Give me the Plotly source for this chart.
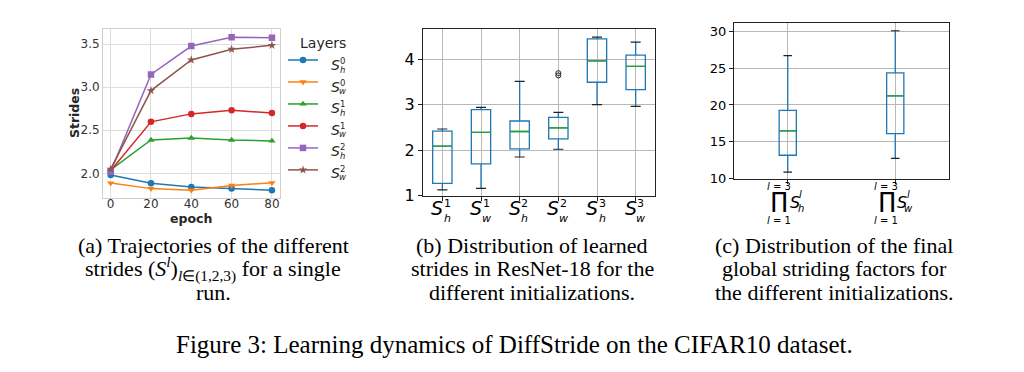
import plotly.graph_objects as go

W, H = 1024, 372


def px(x):
    return x / W


def py(y):
    return 1 - y / H


# ---------------- data: (a) trajectories ----------------
epochs = [0, 20, 40, 60, 80]
s_h0 = [1.98, 1.884, 1.842, 1.823, 1.805]
s_w0 = [1.887, 1.823, 1.805, 1.860, 1.890]
s_h1 = [2.04, 2.387, 2.410, 2.387, 2.376]
s_w1 = [2.03, 2.598, 2.690, 2.733, 2.700]
s_h2 = [2.02, 3.147, 3.477, 3.580, 3.572]
s_w2 = [2.05, 2.960, 3.316, 3.440, 3.485]
series_a = [s_h0, s_w0, s_h1, s_w1, s_h2, s_w2]
legend_dims = ["h", "w", "h", "w", "h", "w"]
legend_layers = ["0", "0", "1", "1", "2", "2"]
x_ticks_a = [0, 20, 40, 60, 80]
y_ticks_a = [2.0, 2.5, 3.0, 3.5]

# ---------------- data: (b) learned strides ----------------
labels_b_dim = ["h", "w", "h", "w", "h", "w"]
labels_b_layer = ["1", "1", "2", "2", "3", "3"]
whislo_b = [1.13, 1.16, 1.85, 2.02, 3.00, 2.96]
q1_b = [1.27, 1.70, 2.03, 2.25, 3.49, 3.33]
med_b = [2.09, 2.39, 2.41, 2.49, 3.96, 3.84]
q3_b = [2.42, 2.89, 2.64, 2.72, 4.44, 4.085]
whishi_b = [2.465, 2.94, 3.51, 2.83, 4.48, 4.37]
outlier_idx_b = 3
outliers_b = [3.64, 3.69]
y_ticks_b = [1, 2, 3, 4]

# ---------------- data: (c) global striding factors ----------------
labels_c_dim = ["h", "w"]
whislo_c = [10.84, 12.70]
q1_c = [13.14, 16.10]
med_c = [16.46, 21.24]
q3_c = [19.25, 24.38]
whishi_c = [26.73, 30.13]
y_ticks_c = [10, 15, 20, 25, 30]

# ---------------- captions ----------------
cap_a = ["(a) Trajectories of the different",
         "strides (<i>S</i><sup><i>l</i></sup>)<sub><i>l</i>∈(1,2,3)</sub> for a single",
         "run."]
cap_b = ["(b) Distribution of learned",
         "strides in ResNet-18 for the",
         "different initializations."]
cap_c = ["(c) Distribution of the final",
         "global striding factors for",
         "the different initializations."]
fig_title = "Figure 3: Learning dynamics of DiffStride on the CIFAR10 dataset."

# ---------------- styles ----------------
colors_a = ["#1f77b4", "#ff7f0e", "#2ca02c", "#d62728", "#9467bd", "#8c564b"]
symbols_a = ["circle", "triangle-down", "triangle-up", "circle", "square", "star"]
BOX_BLUE = "#1f77b4"
MED_GREEN = "#2ca02c"
SANS = "DejaVu Sans"
SERIF = "Liberation Serif"

fig = go.Figure()

# (a) lines
for vals, c, s in zip(series_a, colors_a, symbols_a):
    fig.add_trace(go.Scatter(
        x=epochs, y=vals, mode="lines+markers", name=" ",
        line=dict(color=c, width=1.5),
        marker=dict(symbol=s, size=6.5, color=c),
        xaxis="x", yaxis="y", showlegend=True))

# (b) boxes
pos_b = list(range(1, len(med_b) + 1))
fig.add_trace(go.Box(
    x=pos_b, q1=q1_b, median=med_b, q3=q3_b,
    lowerfence=whislo_b, upperfence=whishi_b,
    width=0.5, whiskerwidth=0, boxpoints=False,
    fillcolor="rgba(0,0,0,0)", line=dict(color=BOX_BLUE, width=1.3),
    xaxis="x2", yaxis="y2", showlegend=False, hoverinfo="skip"))


def seg_lines(pos, vals, half):
    xs, ys = [], []
    for p, v in zip(pos, vals):
        xs += [p - half, p + half, None]
        ys += [v, v, None]
    return xs, ys


mx, my = seg_lines(pos_b, med_b, 0.25)
fig.add_trace(go.Scatter(x=mx, y=my, mode="lines", line=dict(color=MED_GREEN, width=1.3),
                         xaxis="x2", yaxis="y2", showlegend=False, hoverinfo="skip"))
cx1, cy1 = seg_lines(pos_b, whishi_b, 0.13)
cx2, cy2 = seg_lines(pos_b, whislo_b, 0.13)
fig.add_trace(go.Scatter(x=cx1 + cx2, y=cy1 + cy2, mode="lines", line=dict(color="#222", width=1.2),
                         xaxis="x2", yaxis="y2", showlegend=False, hoverinfo="skip"))
fig.add_trace(go.Scatter(x=[pos_b[outlier_idx_b]] * len(outliers_b), y=outliers_b, mode="markers",
                         marker=dict(symbol="circle-open", size=5, color="#222", line=dict(width=1)),
                         xaxis="x2", yaxis="y2", showlegend=False, hoverinfo="skip"))

# (c) boxes
pos_c = list(range(1, len(med_c) + 1))
fig.add_trace(go.Box(
    x=pos_c, q1=q1_c, median=med_c, q3=q3_c,
    lowerfence=whislo_c, upperfence=whishi_c,
    width=0.16, whiskerwidth=0, boxpoints=False,
    fillcolor="rgba(0,0,0,0)", line=dict(color=BOX_BLUE, width=1.3),
    xaxis="x3", yaxis="y3", showlegend=False, hoverinfo="skip"))
mx, my = seg_lines(pos_c, med_c, 0.08)
fig.add_trace(go.Scatter(x=mx, y=my, mode="lines", line=dict(color=MED_GREEN, width=1.3),
                         xaxis="x3", yaxis="y3", showlegend=False, hoverinfo="skip"))
cx1, cy1 = seg_lines(pos_c, whishi_c, 0.04)
cx2, cy2 = seg_lines(pos_c, whislo_c, 0.04)
fig.add_trace(go.Scatter(x=cx1 + cx2, y=cy1 + cy2, mode="lines", line=dict(color="#222", width=1.2),
                         xaxis="x3", yaxis="y3", showlegend=False, hoverinfo="skip"))

annotations = []


def ann(text, x, y, size, xref="paper", yref="paper", family=SANS, color="black",
        xanchor="center", yanchor="middle", xshift=0, yshift=0, textangle=0):
    annotations.append(dict(text=text, x=x, y=y, xref=xref, yref=yref, showarrow=False,
                            font=dict(family=family, size=size, color=color),
                            xanchor=xanchor, yanchor=yanchor, xshift=xshift, yshift=yshift,
                            textangle=textangle, borderpad=0))


# (a) axis titles & legend
ann("<b>Strides</b>", px(66), py(108), 12.5, color="#262626", textangle=-90)
ann("<b>epoch</b>", px(183), py(216), 12.5, color="#262626")
ann("Layers", px(315), py(36), 14, color="#262626")
for i, (d, l) in enumerate(zip(legend_dims, legend_layers)):
    yc = 59 + 22.1 * i
    ann("<i>S</i>", px(327.5), py(yc), 14, color="#262626")
    ann(l, px(334.5), py(yc - 4.5), 8.5, color="#262626")
    ann("<i>%s</i>" % d, px(334.5), py(yc + 4.5), 8.5, color="#262626")

# (b) tick labels
for p, d, l in zip(pos_b, labels_b_dim, labels_b_layer):
    ann("<i>S</i>", p, py(205.5), 19, xref="x2", xshift=-5)
    ann(l, p, py(201), 11, xref="x2", xshift=5)
    ann("<i>%s</i>" % d, p, py(216.5), 11, xref="x2", xshift=5)

# (c) tick labels
for p, d in zip(pos_c, labels_c_dim):
    ann("<i>l</i> = 3", p, py(183.5), 10, xref="x3", xshift=-9)
    ann("∏", p, py(198), 22, xref="x3", xshift=-8)
    ann("<i>S</i>", p, py(200), 16, xref="x3", xshift=7)
    ann("<i>l</i>", p, py(192), 10, xref="x3", xshift=13)
    ann("<i>%s</i>" % d, p, py(206), 10, xref="x3", xshift=13.5)
    ann("<i>l</i> = 1", p, py(218), 10, xref="x3", xshift=-9)

# captions
for lines, xc in ((cap_a, 205), (cap_b, 524), (cap_c, 826)):
    for j, t in enumerate(lines):
        ann(t, px(xc), py(244 + 24 * j), 22, family=SERIF)
ann(fig_title, px(506), py(346), 25, family=SERIF)

grid_a = "#dedede"
fig.update_layout(
    width=W, height=H, margin=dict(l=0, r=0, t=0, b=0),
    paper_bgcolor="white", plot_bgcolor="white",
    font=dict(family=SANS, color="black"),
    showlegend=True,
    legend=dict(x=px(275), y=py(37), xanchor="left", yanchor="top",
                font=dict(size=14.6, family=SANS), bgcolor="rgba(0,0,0,0)",
                borderwidth=0, itemwidth=30, tracegroupgap=0),
    xaxis=dict(domain=[px(95), px(272)], anchor="y", range=[-3.8, 84],
               tickvals=x_ticks_a, ticks="", showgrid=True, gridcolor=grid_a, gridwidth=1,
               showline=True, linecolor="#cfcfcf", linewidth=1, mirror=True, zeroline=False,
               ticklabelstandoff=-5,
               tickfont=dict(size=12, color="#333")),
    yaxis=dict(domain=[py(195), py(22)], anchor="x", range=[1.717, 3.67],
               tickvals=y_ticks_a, tickformat=".1f", ticks="", showgrid=True, gridcolor=grid_a,
               gridwidth=1, showline=True, linecolor="#cfcfcf", linewidth=1, mirror=True,
               zeroline=False, tickfont=dict(size=12, color="#333")),
    xaxis2=dict(domain=[px(415), px(647)], anchor="y2", range=[0.5, 6.5],
                tickvals=pos_b, showticklabels=False, ticks="outside", ticklen=4,
                tickcolor="#222", showgrid=True, gridcolor="#b8b8b8", gridwidth=1,
                showline=True, linecolor="#222", linewidth=1, mirror=True, zeroline=False),
    yaxis2=dict(domain=[py(193), py(21.5)], anchor="x2", range=[0.999, 4.66],
                tickvals=y_ticks_b, ticks="outside", ticklen=4, tickcolor="#222",
                showgrid=True, gridcolor="#b8b8b8", gridwidth=1, showline=True,
                linecolor="#222", linewidth=1, mirror=True, zeroline=False,
                tickfont=dict(size=16, color="black")),
    xaxis3=dict(domain=[px(726), px(941)], anchor="y3", range=[0.5, 2.5],
                tickvals=pos_c, showticklabels=False, ticks="outside", ticklen=4,
                tickcolor="#222", showgrid=True, gridcolor="#b8b8b8", gridwidth=1,
                showline=True, linecolor="#222", linewidth=1, mirror=True, zeroline=False),
    yaxis3=dict(domain=[py(175.7), py(15)], anchor="x3", range=[9.9, 31.24],
                tickvals=y_ticks_c, ticks="outside", ticklen=4, tickcolor="#222",
                showgrid=True, gridcolor="#b8b8b8", gridwidth=1, showline=True,
                linecolor="#222", linewidth=1, mirror=True, zeroline=False,
                tickfont=dict(size=13, color="black")),
    annotations=annotations,
)

fig.write_html("out.html")
